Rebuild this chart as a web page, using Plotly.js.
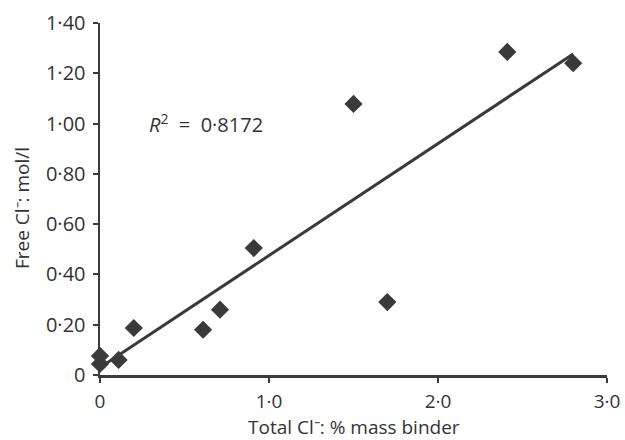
<!DOCTYPE html>
<html>
<head>
<meta charset="utf-8">
<script src="https://cdn.plot.ly/plotly-3.0.1.min.js"></script>
<style>html,body{margin:0;padding:0;background:#fff;}#chart{width:625px;height:440px;}</style>
</head>
<body>
<div id="chart"></div>
<script>
const totalCl = [0, 0, 0.11, 0.2, 0.61, 0.71, 0.91, 1.5, 1.7, 2.41, 2.8];
const freeCl = [0.076, 0.044, 0.06, 0.187, 0.18, 0.26, 0.505, 1.078, 0.29, 1.285, 1.24];
const xTickVals = [0, 1, 2, 3];
const xTickText = ['0', '1·0', '2·0', '3·0'];
const yTickVals = [0, 0.2, 0.4, 0.6, 0.8, 1.0, 1.2, 1.4];
const yTickText = ['0', '0·20', '0·40', '0·60', '0·80', '1·00', '1·20', '1·40'];
const xTitle = 'Total Cl⁻: % mass binder';
const yTitle = 'Free Cl⁻: mol/l';
const r2Text = '<i>R</i><sup>2</sup>&nbsp; = &nbsp;0·8172';

// least-squares trend line
const n = totalCl.length;
const mx = totalCl.reduce((a, b) => a + b, 0) / n;
const my = freeCl.reduce((a, b) => a + b, 0) / n;
let sxy = 0, sxx = 0;
for (let i = 0; i < n; i++) { sxy += (totalCl[i] - mx) * (freeCl[i] - my); sxx += (totalCl[i] - mx) ** 2; }
const slope = sxy / sxx, icpt = my - slope * mx;
const xMin = Math.min(...totalCl), xMax = Math.max(...totalCl);
const lineX = [xMin, xMax];
const lineY = lineX.map(x => icpt + slope * x);

const dark = '#3a3a3a';
const font = {family: 'Open Sans, sans-serif', size: 20, color: '#333'};
const xTickFont = {family: 'Open Sans, sans-serif', size: 19, color: '#333'};
const yFont = {family: 'Open Sans, sans-serif', size: 19, color: '#333'};

Plotly.newPlot('chart', [
  {x: lineX, y: lineY, mode: 'lines', line: {color: dark, width: 3}, cliponaxis: false, hoverinfo: 'skip'},
  {x: totalCl, y: freeCl, mode: 'markers', marker: {symbol: 'diamond', size: 14, color: dark}, cliponaxis: false}
], {
  width: 625, height: 440,
  margin: {l: 100, r: 18, t: 23, b: 65},
  showlegend: false,
  paper_bgcolor: '#fff', plot_bgcolor: '#fff',
  font: font,
  xaxis: {
    range: [0, 3], tickvals: xTickVals, ticktext: xTickText,
    showgrid: false, zeroline: false, showline: true, linecolor: dark, linewidth: 2.5,
    ticks: 'outside', ticklen: 5, tickwidth: 2, tickcolor: dark,
    tickfont: xTickFont, ticklabelstandoff: 3
  },
  yaxis: {
    range: [0, 1.4], tickvals: yTickVals, ticktext: yTickText,
    showgrid: false, zeroline: false, showline: true, linecolor: dark, linewidth: 2.5,
    ticks: 'outside', ticklen: 5, tickwidth: 2, tickcolor: dark,
    tickfont: font, ticklabelstandoff: 3
  },
  annotations: [
    {x: 0.28, y: 1.0, xref: 'x', yref: 'y', xanchor: 'left', yanchor: 'middle',
     text: r2Text, showarrow: false, font: font},
    {x: 0.5, y: -0.148, xref: 'paper', yref: 'paper', xanchor: 'center', yanchor: 'middle',
     text: xTitle, showarrow: false, font: xTickFont, borderpad: 0},
    {x: -0.154, y: 0.474, xref: 'paper', yref: 'paper', xanchor: 'center', yanchor: 'middle',
     text: yTitle, textangle: -90, showarrow: false, font: yFont}
  ]
}, {staticPlot: true});
</script>
</body>
</html>
